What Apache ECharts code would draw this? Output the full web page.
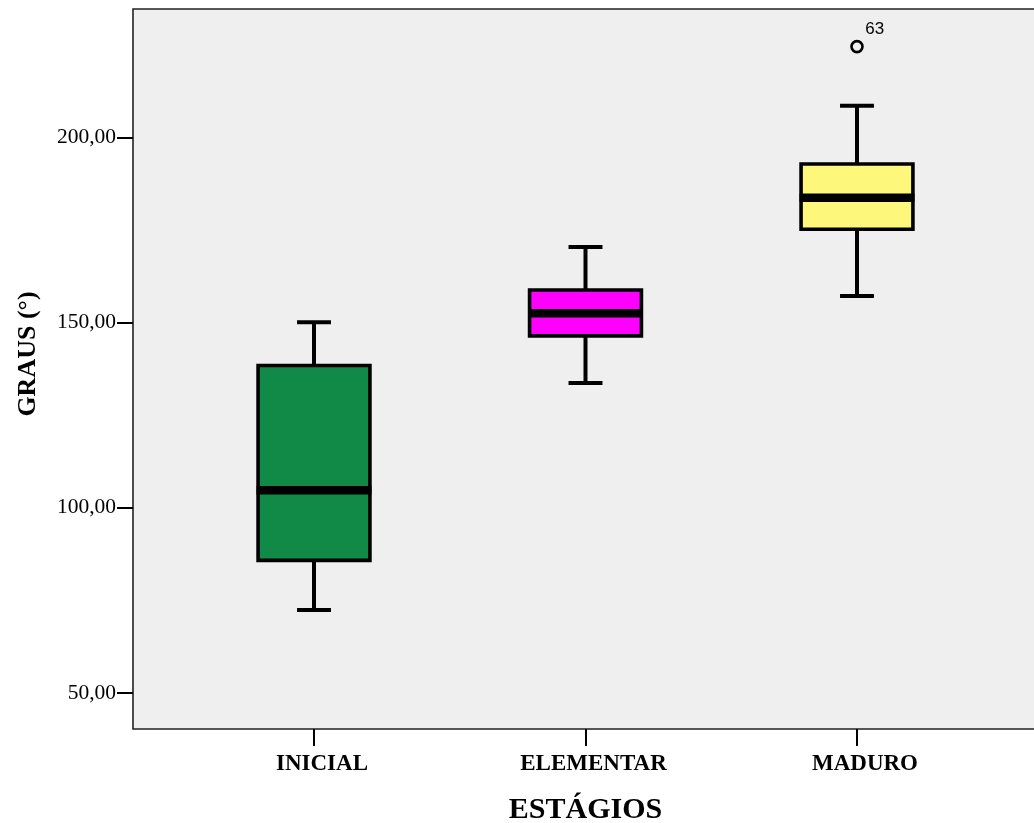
<!DOCTYPE html>
<html>
<head>
<meta charset="utf-8">
<title>GRAUS por ESTÁGIOS</title>
<script src="https://cdn.jsdelivr.net/npm/echarts@6/dist/echarts.min.js"></script>
<style>
    html, body { margin: 0; padding: 0; background: #ffffff; }
    #box_chart { width: 1034px; height: 823px; }
</style>
</head>
<body>
<div id="box_chart"></div>
<script>
// dados
var categories = ['INICIAL', 'ELEMENTAR', 'MADURO'];
var whiskerLow = [72.4, 133.7, 157.2];
var quartile1 = [85.8, 146.4, 175.2];
var medians = [104.7, 152.5, 183.7];
var quartile3 = [138.4, 158.8, 192.8];
var whiskerHigh = [150.1, 170.4, 208.5];
var outlierIndex = [2];
var outlierValues = [224.5];
var outlierLabels = ['63'];
var yTicks = [50, 100, 150, 200];

(function () {
    var myChart = echarts.init(document.getElementById('box_chart'));
    var boxColors = ['#118a48', '#ff00ff', '#fdf87b'];

    function $each(arr, fn) {
        for (var i = 0; i < arr.length; i++) fn(i, arr[i]);
    }

    // monta os dados no formato [x, min, q1, mediana, q3, max]
    var boxData = [];
    $each(categories, function (i) {
        boxData.push([i, whiskerLow[i], quartile1[i], medians[i], quartile3[i], whiskerHigh[i]]);
    });
    var outData = [];
    $each(outlierIndex, function (i, v) {
        outData.push({value: [v, outlierValues[i]], name: outlierLabels[i]});
    });

    function renderBox(params, api) {
        var x = api.value(0);
        var pMin = api.coord([x, api.value(1)]);
        var pQ1 = api.coord([x, api.value(2)]);
        var pMed = api.coord([x, api.value(3)]);
        var pQ3 = api.coord([x, api.value(4)]);
        var pMax = api.coord([x, api.value(5)]);
        var band = api.size([1, 0])[0];
        var boxW = band * 0.412;
        var capW = band * 0.125;
        var cx = pMed[0];
        var lineStyle = {stroke: '#000', lineWidth: 4};
        return {
            type: 'group',
            children: [
                {type: 'line', shape: {x1: cx, y1: pMin[1], x2: cx, y2: pQ1[1]}, style: lineStyle},
                {type: 'line', shape: {x1: cx, y1: pQ3[1], x2: cx, y2: pMax[1]}, style: lineStyle},
                {type: 'line', shape: {x1: cx - capW / 2, y1: pMin[1], x2: cx + capW / 2, y2: pMin[1]}, style: lineStyle},
                {type: 'line', shape: {x1: cx - capW / 2, y1: pMax[1], x2: cx + capW / 2, y2: pMax[1]}, style: lineStyle},
                {
                    type: 'rect',
                    shape: {x: cx - boxW / 2, y: pQ3[1], width: boxW, height: pQ1[1] - pQ3[1]},
                    style: {fill: boxColors[params.dataIndex], stroke: '#000', lineWidth: 3.6}
                },
                {
                    type: 'line',
                    shape: {x1: cx - boxW / 2 - 1.5, y1: pMed[1], x2: cx + boxW / 2 + 1.5, y2: pMed[1]},
                    style: {stroke: '#000', lineWidth: 8.5}
                }
            ]
        };
    }

    var option = {
        animation: false,
        backgroundColor: '#ffffff',
        grid: {
            show: true,
            left: 133,
            top: 9,
            width: 905,
            height: 720,
            outerBoundsMode: 'none',
            containLabel: false,
            backgroundColor: '#efefef',
            borderColor: '#222222',
            borderWidth: 1.6
        },
        xAxis: {
            type: 'value',
            min: -0.6667,
            max: 2.6667,
            name: 'ESTÁGIOS',
            nameLocation: 'middle',
            nameGap: 66,
            nameTextStyle: {
                fontFamily: 'Liberation Serif',
                fontWeight: 'bold',
                fontSize: 30,
                color: '#000'
            },
            splitLine: {show: false},
            axisLine: {show: false, onZero: false},
            axisTick: {
                show: true,
                customValues: [0, 1, 2],
                length: 17,
                lineStyle: {color: '#000', width: 2}
            },
            axisLabel: {
                customValues: [0, 1, 2],
                margin: 24,
                padding: [0, 0, 0, 16],
                fontFamily: 'Liberation Serif',
                fontWeight: 'bold',
                fontSize: 23,
                color: '#000',
                formatter: function (v) {
                    return categories[Math.round(v)];
                }
            }
        },
        yAxis: {
            type: 'value',
            min: 40.28,
            max: 234.65,
            name: 'GRAUS (°)',
            nameLocation: 'middle',
            nameRotate: 90,
            nameGap: 92,
            nameTextStyle: {
                fontFamily: 'Liberation Serif',
                fontWeight: 'bold',
                fontSize: 26,
                color: '#000',
                padding: [0, 0, 0, 30]
            },
            splitLine: {show: false},
            axisLine: {show: false, onZero: false},
            axisTick: {
                show: true,
                customValues: yTicks,
                length: 16,
                lineStyle: {color: '#000', width: 2}
            },
            axisLabel: {
                customValues: yTicks,
                margin: 17,
                fontFamily: 'Liberation Serif',
                fontSize: 21.5,
                color: '#000',
                formatter: function (v) {
                    return v.toFixed(2).replace('.', ',');
                }
            }
        },
        series: [
            {
                type: 'custom',
                renderItem: renderBox,
                encode: {x: 0, y: [1, 2, 3, 4, 5]},
                data: boxData
            },
            {
                type: 'scatter',
                symbol: 'circle',
                symbolSize: 11,
                itemStyle: {color: 'rgba(0,0,0,0)', borderColor: '#000', borderWidth: 2.6, opacity: 1},
                label: {
                    show: true,
                    position: [15, -19],
                    align: 'left',
                    verticalAlign: 'top',
                    formatter: '{b}',
                    fontFamily: 'Liberation Sans',
                    fontSize: 17,
                    color: '#000'
                },
                data: outData
            }
        ]
    };
    myChart.setOption(option);
    window.addEventListener('resize', function () {
        myChart.resize();
    });
})();
</script>
</body>
</html>
